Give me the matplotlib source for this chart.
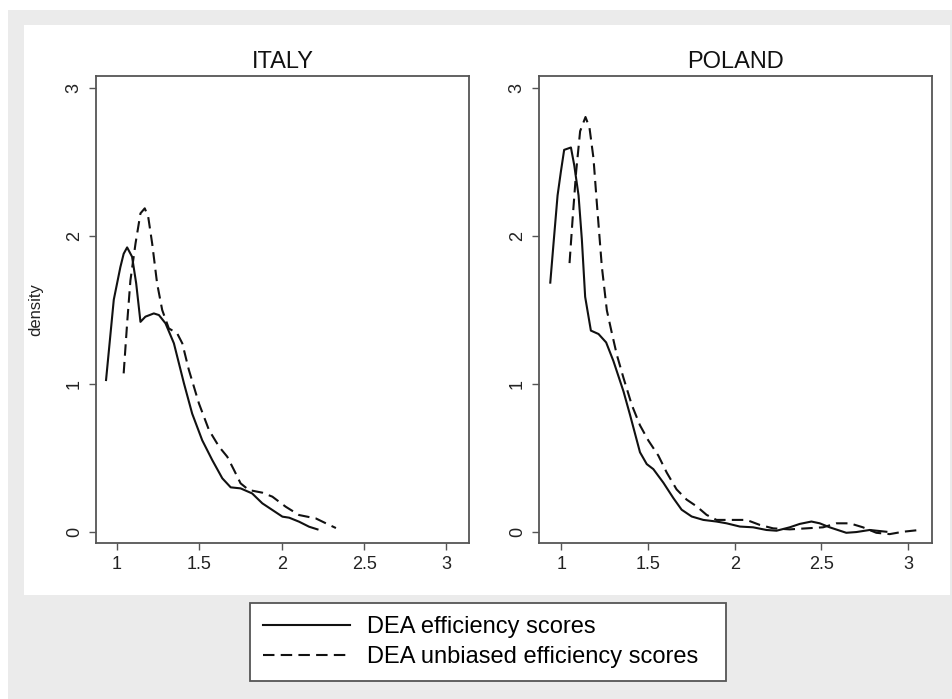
import numpy as np
import matplotlib
matplotlib.use('Agg')
import matplotlib.pyplot as plt
from matplotlib.patches import Rectangle

plt.rcParams['font.family'] = ['Liberation Sans', 'DejaVu Sans']

# density curves
italy_dea_x = [0.933, 0.98, 1.02, 1.04, 1.061, 1.091, 1.116, 1.142, 1.172, 1.223, 1.254,
               1.294, 1.345, 1.406, 1.456, 1.517, 1.578, 1.639, 1.69, 1.75, 1.82, 1.882,
               1.943, 2.004, 2.045, 2.105, 2.166, 2.217]
italy_dea_y = [1.027, 1.57, 1.79, 1.88, 1.923, 1.86, 1.68, 1.42, 1.455, 1.477, 1.466,
               1.41, 1.275, 1.005, 0.80, 0.62, 0.486, 0.363, 0.302, 0.295, 0.261, 0.194,
               0.149, 0.104, 0.097, 0.07, 0.036, 0.018]

italy_unb_x = [1.04, 1.061, 1.081, 1.112, 1.142, 1.168, 1.189, 1.213, 1.243, 1.274, 1.314,
               1.365, 1.396, 1.436, 1.497, 1.558, 1.619, 1.669, 1.71, 1.75, 1.80, 1.882,
               1.943, 2.024, 2.105, 2.207, 2.268, 2.329]
italy_unb_y = [1.072, 1.41, 1.70, 1.95, 2.153, 2.187, 2.13, 1.95, 1.68, 1.50, 1.376,
               1.342, 1.275, 1.095, 0.869, 0.689, 0.577, 0.509, 0.419, 0.329, 0.284, 0.266,
               0.239, 0.171, 0.115, 0.092, 0.059, 0.027]

poland_dea_x = [0.937, 0.956, 0.979, 0.998, 1.017, 1.056, 1.075, 1.10, 1.119, 1.138, 1.171,
                1.215, 1.259, 1.301, 1.359, 1.397, 1.454, 1.493, 1.531, 1.589, 1.646, 1.694,
                1.752, 1.819, 1.895, 1.953, 2.03, 2.106, 2.183, 2.241, 2.317, 2.375, 2.442,
                2.49, 2.547, 2.643, 2.701, 2.778, 2.874]
poland_dea_y = [1.685, 1.954, 2.274, 2.434, 2.582, 2.598, 2.479, 2.274, 1.977, 1.589, 1.361,
                1.338, 1.281, 1.155, 0.95, 0.79, 0.539, 0.459, 0.425, 0.333, 0.23, 0.151,
                0.105, 0.082, 0.071, 0.059, 0.037, 0.032, 0.014, 0.009, 0.032, 0.055, 0.071,
                0.059, 0.032, -0.005, 0.0, 0.014, 0.002]

poland_unb_x = [1.048, 1.067, 1.086, 1.109, 1.14, 1.163, 1.186, 1.205, 1.234, 1.263, 1.291,
                1.32, 1.359, 1.407, 1.454, 1.502, 1.56, 1.608, 1.665, 1.723, 1.78, 1.838,
                1.895, 1.972, 2.068, 2.145, 2.221, 2.317, 2.413, 2.509, 2.586, 2.663, 2.739,
                2.816, 2.893, 2.97, 3.065]
poland_unb_y = [1.817, 2.137, 2.434, 2.708, 2.804, 2.731, 2.525, 2.228, 1.795, 1.498, 1.349,
                1.20, 1.041, 0.858, 0.721, 0.619, 0.516, 0.402, 0.288, 0.219, 0.174, 0.116,
                0.082, 0.082, 0.082, 0.048, 0.025, 0.018, 0.025, 0.032, 0.059, 0.059, 0.032,
                -0.005, -0.014, 0.002, 0.014]

x_ticks = [1, 1.5, 2, 2.5, 3]
x_tick_labels = ['1', '1.5', '2', '2.5', '3']
y_ticks = [0, 1, 2, 3]
labels = ['DEA efficiency scores', 'DEA unbiased efficiency scores']

W, H = 952, 699
fig = plt.figure(figsize=(W / 100, H / 100), dpi=100, facecolor='white')

# grey outer band and white plot region
fig.patches.append(Rectangle((8 / W, 0), 944 / W, 689 / H, transform=fig.transFigure,
                             facecolor='#ebebeb', edgecolor='none', zorder=-2))
fig.patches.append(Rectangle((24 / W, 1 - 595 / H), 926 / W, 570 / H, transform=fig.transFigure,
                             facecolor='white', edgecolor='none', zorder=-1))

frame_col = '#555555'
dash = (0, (5.5, 3))

def style_axes(ax, title):
    ax.set_xlim(0.872, 3.137)
    ax.set_ylim(-0.074, 3.081)
    ax.set_xticks(x_ticks)
    ax.set_xticklabels(x_tick_labels)
    ax.set_yticks(y_ticks)
    ax.set_yticklabels([str(v) for v in y_ticks], rotation=90, va='center')
    ax.tick_params(length=5, width=1.0, color=frame_col, labelsize=13,
                   labelcolor='#222222', pad=4.5)
    for s in ax.spines.values():
        s.set_color(frame_col)
        s.set_linewidth(1.3)
    ax.set_title(title, fontsize=17, pad=6, color='#111111')
    ax.patch.set_alpha(0)

ax1 = fig.add_axes([96 / W, 1 - 543 / H, 373 / W, 467 / H])
l1, = ax1.plot(italy_dea_x, italy_dea_y, color='#111111', lw=1.5)
l2, = ax1.plot(italy_unb_x, italy_unb_y, color='#111111', lw=1.5, linestyle=dash)
style_axes(ax1, 'ITALY')
ax1.set_ylabel('density', fontsize=12, color='#222222')
ax1.yaxis.set_label_coords(-0.142, 0.5)

ax2 = fig.add_axes([539 / W, 1 - 543 / H, 393 / W, 467 / H])
ax2.plot(poland_dea_x, poland_dea_y, color='#111111', lw=1.5)
ax2.plot(poland_unb_x, poland_unb_y, color='#111111', lw=1.5, linestyle=dash)
style_axes(ax2, 'POLAND')

leg = fig.legend([l1, l2], labels, loc='center', mode='expand',
                 bbox_to_anchor=(250 / W, 1 - 682 / H, 476 / W, 80 / H),
                 borderaxespad=0, fontsize=17, handlelength=3.7, handletextpad=0.7,
                 labelspacing=0.32, borderpad=0.55, fancybox=False, framealpha=1)
leg.get_frame().set_edgecolor(frame_col)
leg.get_frame().set_linewidth(1.3)

fig.savefig('out.png', dpi=100, facecolor='white')
